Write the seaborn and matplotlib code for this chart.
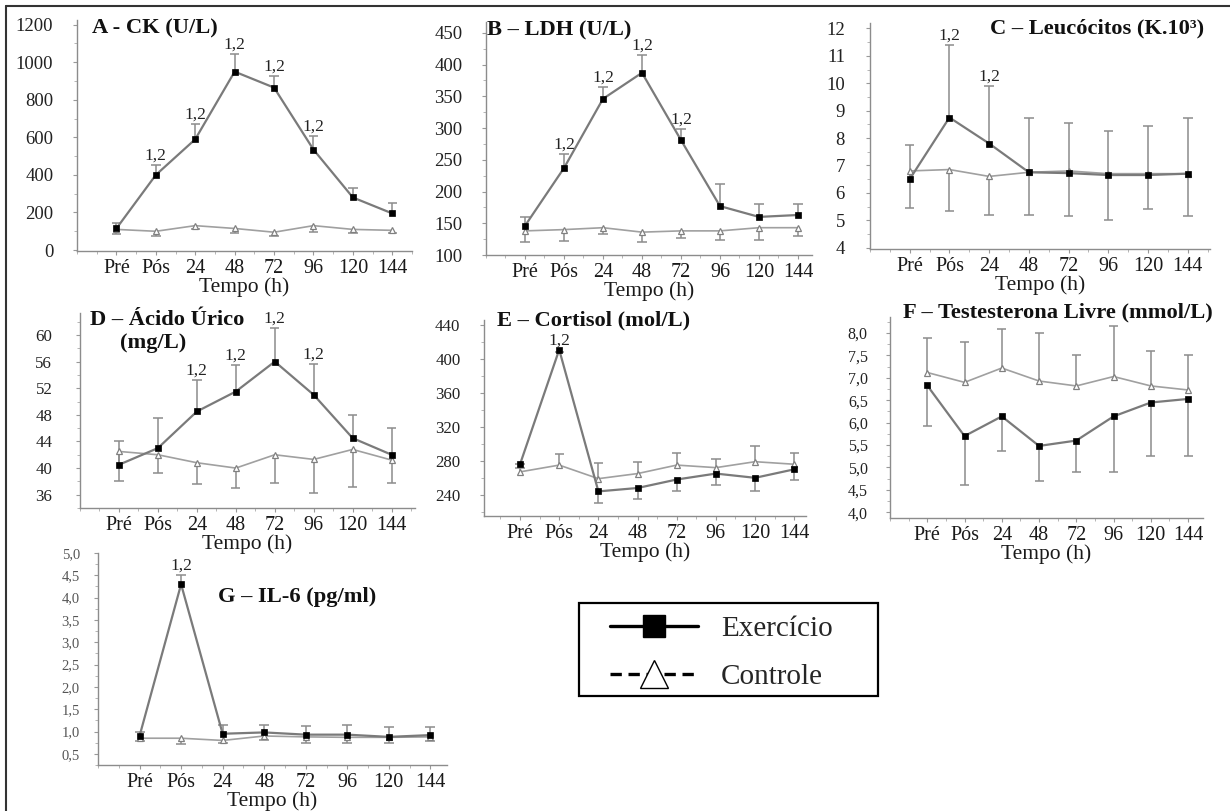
import numpy as np
import pandas as pd
import seaborn as sns
import matplotlib.pyplot as plt
from matplotlib.lines import Line2D
from matplotlib.patches import Rectangle
from matplotlib.ticker import MultipleLocator, FixedLocator

tempos = ['Pré', 'Pós', '24', '48', '72', '96', '120', '144']

# A - CK
ck_exe = [115, 400, 590, 950, 865, 535, 280, 195]
ck_exe_sd = [30, 55, 80, 95, 60, 70, 50, 55]
ck_ctl = [110, 100, 130, 115, 95, 130, 110, 105]
ck_ctl_sd = [25, 25, 20, 25, 20, 35, 20, 15]
ck_sig = [1, 2, 3, 4, 5]

# B - LDH
ldh_exe = [146, 237, 346, 387, 281, 177, 160, 163]
ldh_exe_sd = [14, 22, 18, 28, 17, 35, 20, 17]
ldh_ctl = [138, 140, 143, 136, 138, 138, 143, 143]
ldh_ctl_sd = [18, 18, 10, 15, 12, 14, 20, 13]
ldh_sig = [1, 2, 3, 4]

# C - Leucocitos
leu_exe = [6.5, 8.75, 7.8, 6.75, 6.72, 6.65, 6.65, 6.7]
leu_exe_sd = [1.25, 2.65, 2.1, 2.0, 1.83, 1.6, 1.8, 2.05]
leu_ctl = [6.8, 6.85, 6.6, 6.75, 6.8, 6.7, 6.7, 6.7]
leu_ctl_sd = [1.35, 1.5, 1.4, 1.55, 1.65, 1.7, 1.3, 1.55]
leu_sig = [1, 2]

# D - Acido urico
uric_exe = [40.5, 43, 48.5, 51.5, 56, 51, 44.5, 42]
uric_exe_sd = [3.5, 4.5, 4.8, 4.0, 5.0, 4.7, 3.5, 4.0]
uric_ctl = [42.5, 42, 40.8, 40, 42, 41.3, 42.8, 41.2]
uric_ctl_sd = [4.5, 2.8, 3.2, 3.0, 4.2, 5.1, 5.6, 3.4]
uric_sig = [2, 3, 4, 5]

# E - Cortisol
cort_exe = [276, 411, 244, 248, 258, 265, 260, 270]
cort_exe_sd = [4, 3, 14, 13, 13, 13, 15, 13]
cort_ctl = [267, 275, 259, 265, 275, 272, 279, 276]
cort_ctl_sd = [9, 13, 18, 14, 14, 10, 18, 13]
cort_sig = [1]

# F - Testosterona livre
test_exe = [6.83, 5.7, 6.14, 5.48, 5.6, 6.14, 6.45, 6.53]
test_exe_sd = [0.91, 1.09, 0.77, 0.78, 0.7, 1.24, 1.2, 1.28]
test_ctl = [7.12, 6.9, 7.22, 6.93, 6.82, 7.03, 6.82, 6.73]
test_ctl_sd = [0.76, 0.9, 0.88, 1.07, 0.68, 1.12, 0.78, 0.77]
test_sig = []

# G - IL-6
il6_exe = [0.9, 4.3, 0.95, 0.98, 0.93, 0.93, 0.88, 0.92]
il6_exe_sd = [0.1, 0.2, 0.2, 0.17, 0.19, 0.22, 0.22, 0.18]
il6_ctl = [0.85, 0.85, 0.8, 0.9, 0.88, 0.87, 0.87, 0.88]
il6_ctl_sd = [0.07, 0.13, 0.05, 0.1, 0.13, 0.12, 0.12, 0.1]
il6_sig = [1]

sns.set_style("ticks")
plt.rcParams['font.family'] = ['Liberation Serif', 'DejaVu Serif']

W, H = 1230, 811
fig = plt.figure(figsize=(12.3, 8.11), dpi=100)


def px_axes(left, top, right, bottom):
    return fig.add_axes([left / W, 1 - bottom / H, (right - left) / W, (bottom - top) / H])


def fig_text(x, y, s, **kw):
    fig.text(x / W, 1 - y / H, s, va='center', **kw)


def bars(ax, y, sd, up, color):
    y = np.asarray(y)
    sd = np.asarray(sd)
    end = y + sd if up else y - sd
    x = np.arange(len(y))
    ax.vlines(x, y, end, color=color, lw=1.1, zorder=1)
    ax.hlines(end, x - 0.12, x + 0.12, color=color, lw=1.1, zorder=1)


def panel(box, exe, exe_sd, ctl, ctl_sd, exe_up, sig, ylim, xlim, yticks, minor,
          ylab_size=13.5, ypad=14, comma=False, ylab_color='#222222'):
    ax = px_axes(*box)
    df = pd.DataFrame({'t': np.arange(8), 'exe': exe, 'ctl': ctl})
    bars(ax, exe, exe_sd, exe_up, '#8c8c8c')
    bars(ax, ctl, ctl_sd, not exe_up, '#8c8c8c')
    sns.lineplot(data=df, x='t', y='ctl', ax=ax, color='#a0a0a0', lw=1.2, marker='^',
                 markersize=5, markerfacecolor='white', markeredgecolor='#808080',
                 markeredgewidth=0.9, zorder=2)
    sns.lineplot(data=df, x='t', y='exe', ax=ax, color='#7a7a7a', lw=1.6, marker='s',
                 markersize=5, markerfacecolor='black', markeredgecolor='black',
                 markeredgewidth=0.5, zorder=3)
    for i in sig:
        top = exe[i] + exe_sd[i] if exe_up else exe[i]
        ax.annotate('1,2', (i, top), xytext=(0, 1), textcoords='offset points',
                    ha='center', va='bottom', fontsize=12.5, color='#222222')
    ax.set_xlim(*xlim)
    ax.set_ylim(*ylim)
    ax.set_xticks(range(8))
    ax.set_xticklabels(tempos, fontsize=14.5, color='#1a1a1a')
    ax.xaxis.set_minor_locator(FixedLocator(np.arange(-1, 8, 0.5)))
    ax.set_yticks(yticks)
    if comma:
        ax.set_yticklabels([f'{v:.1f}'.replace('.', ',') for v in yticks])
    ax.yaxis.set_minor_locator(MultipleLocator(minor))
    ax.tick_params(axis='y', labelsize=ylab_size, colors='#999999',
                   length=3, width=0.8, pad=ypad)
    ax.tick_params(axis='y', labelcolor=ylab_color)
    ax.tick_params(axis='x', colors='#999999', length=3, width=0.8, pad=3)
    ax.tick_params(axis='x', labelcolor='#1a1a1a')
    ax.tick_params(which='minor', length=2, color='#aaaaaa')
    ax.set_xlabel('Tempo (h)', fontsize=15.5, labelpad=-1, color='#1a1a1a')
    ax.set_ylabel('')
    sns.despine(ax=ax)
    for s in ('left', 'bottom'):
        ax.spines[s].set_color('#8c8c8c')
        ax.spines[s].set_linewidth(1.0)
    ax.patch.set_alpha(0)
    return ax


panel((77, 20, 412, 251), ck_exe, ck_exe_sd, ck_ctl, ck_ctl_sd, True, ck_sig,
      (-5, 1225), (-1, 7.5), np.arange(0, 1201, 200), 100)
panel((486, 22, 812, 255), ldh_exe, ldh_exe_sd, ldh_ctl, ldh_ctl_sd, True, ldh_sig,
      (100, 467), (-1, 7.36), np.arange(100, 451, 50), 25)
panel((870, 23, 1210, 249), leu_exe, leu_exe_sd, leu_ctl, leu_ctl_sd, True, leu_sig,
      (3.95, 12.2), (-1, 7.56), np.arange(4, 13, 1), 0.5, ypad=15)
panel((80, 313, 415, 508), uric_exe, uric_exe_sd, uric_ctl, uric_ctl_sd, True, uric_sig,
      (34, 63.3), (-1, 7.6), np.arange(36, 61, 4), 2, ylab_size=12.2, ypad=17)
panel((484, 320, 806, 516), cort_exe, cort_exe_sd, cort_ctl, cort_ctl_sd, False, cort_sig,
      (215, 446), (-0.92, 7.3), np.arange(240, 441, 40), 20, ylab_size=12.2)
panel((890, 317, 1203, 518), test_exe, test_exe_sd, test_ctl, test_ctl_sd, False, test_sig,
      (3.87, 8.36), (-1, 7.4), np.arange(4.0, 8.01, 0.5), 0.25, ylab_size=11.5,
      ypad=13, comma=True)
panel((98, 553, 447, 765), il6_exe, il6_exe_sd, il6_ctl, il6_ctl_sd, True, il6_sig,
      (0.25, 5.0), (-1, 7.4), np.arange(0.5, 5.01, 0.5), 0.25, ylab_size=10.5,
      ypad=10, comma=True, ylab_color='#555555')

# panel titles
tkw = dict(fontsize=16.2, fontweight='bold', color='#111111')
fig_text(92, 28, 'A - CK (U/L)', **tkw)
fig_text(487, 30, 'B – LDH (U/L)', **tkw)
fig_text(990, 28, 'C – Leucócitos (K.10³)', **tkw)
fig_text(90, 320, 'D – Ácido Úrico', **tkw)
fig_text(120, 343, '(mg/L)', **tkw)
fig_text(497, 320, 'E – Cortisol (mol/L)', **tkw)
fig_text(903, 312, 'F – Testesterona Livre (mmol/L)', **tkw)
fig_text(218, 597, 'G – IL-6 (pg/ml)', **tkw)

# legend: frame drawn as its own box, entries placed inside it
fig.add_artist(Rectangle((579 / W, 1 - 696 / H), (878 - 579) / W, (696 - 603) / H,
                         transform=fig.transFigure, facecolor='white',
                         edgecolor='black', lw=1.6, zorder=5))
handles = [
    Line2D([], [], color='black', lw=2.4, marker='s', markersize=16,
           markerfacecolor='black', markeredgecolor='black'),
    Line2D([], [], color='black', lw=2.4, ls=(0, (3.4, 2.0)), marker='^', markersize=20,
           markerfacecolor='white', markeredgecolor='black', markeredgewidth=1.0),
]
leg = fig.legend(handles, ['Exercício', 'Controle'], loc='center left',
                 bbox_to_anchor=(610 / W, 1 - 653 / H), fontsize=21, frameon=False,
                 handlelength=3.0, handletextpad=0.8, borderpad=0,
                 labelspacing=0.76, borderaxespad=0)
leg.set_zorder(6)

# outer frame (top and left edges)
fig.add_artist(Line2D([6 / W, 1], [1 - 6 / H, 1 - 6 / H], color='#333333', lw=1.5))
fig.add_artist(Line2D([6 / W, 6 / W], [0, 1 - 6 / H], color='#333333', lw=1.5))

fig.savefig('out.png', dpi=100)
